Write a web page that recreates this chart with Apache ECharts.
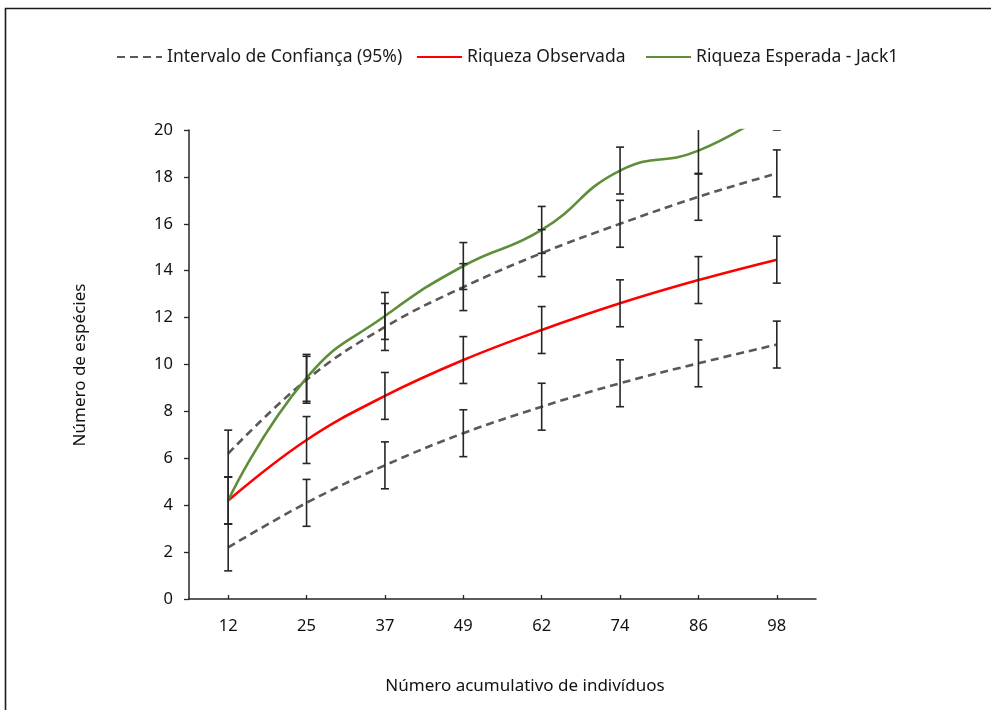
<!DOCTYPE html>
<html>
<head>
<meta charset="utf-8">
<script src="https://cdn.jsdelivr.net/npm/echarts@6/dist/echarts.min.js"></script>
<style>html,body{margin:0;padding:0;background:#fff;}#c{width:991px;height:710px;}</style>
</head>
<body>
<div id="c"></div>
<script>
// ---- data ----
const categories = ['12', '25', '37', '49', '62', '74', '86', '98'];
const upperCI  = [6.2, 9.35, 11.6, 13.3, 14.75, 16.0, 17.15, 18.15];
const lowerCI  = [2.2, 4.1, 5.7, 7.07, 8.2, 9.2, 10.05, 10.85];
const observed = [4.2, 6.78, 8.66, 10.19, 11.47, 12.61, 13.6, 14.47];
const jack1    = [4.2, 9.43, 12.07, 14.2, 15.74, 18.27, 19.12, 21.0];
const errorAmount = 1;
const yTicks = { min: 0, max: 20, interval: 2 };

const nameCI = 'Intervalo de Confiança (95%)';
const nameObs = 'Riqueza Observada';
const nameJack = 'Riqueza Esperada - Jack1';

const FONT = 'Noto Sans';
const chart = echarts.init(document.getElementById('c'));

function errData(vals) {
  return vals.map((v, i) => [i, v - errorAmount, v + errorAmount]);
}
function renderErr(params, api) {
  const x = api.value(0);
  const lo = api.coord([x, api.value(1)]);
  const hi = api.coord([x, api.value(2)]);
  const hw = 4;
  const st = { stroke: '#262626', lineWidth: 1.6 };
  return {
    type: 'group',
    children: [
      { type: 'line', shape: { x1: lo[0], y1: lo[1], x2: hi[0], y2: hi[1] }, style: st },
      { type: 'line', shape: { x1: lo[0] - hw, y1: lo[1], x2: lo[0] + hw, y2: lo[1] }, style: st },
      { type: 'line', shape: { x1: hi[0] - hw, y1: hi[1], x2: hi[0] + hw, y2: hi[1] }, style: st }
    ]
  };
}
function errSeries(vals) {
  return {
    type: 'custom', renderItem: renderErr, data: errData(vals),
    clip: true, z: 5, silent: true, encode: { x: 0, y: [1, 2] }
  };
}

const legendText = { fontFamily: FONT, fontSize: 17.5, color: '#1a1a1a' };
const dashStyle = { color: '#595959', width: 2.6, type: [8, 5] };
const legendCommon = { top: 48, padding: 0, itemWidth: 45, itemHeight: 12, textStyle: legendText, itemStyle: { opacity: 0 } };

chart.setOption({
  animation: false,
  backgroundColor: '#ffffff',
  textStyle: { fontFamily: FONT },
  grid: { left: 189, right: 175, top: 130, bottom: 111, containLabel: false },
  legend: [
    Object.assign({ data: [nameCI], left: 116 }, legendCommon),
    Object.assign({ data: [nameObs], left: 416 }, legendCommon),
    Object.assign({ data: [nameJack], left: 645 }, legendCommon)
  ],
  xAxis: {
    type: 'category', data: categories, boundaryGap: true,
    axisLine: { lineStyle: { color: '#262626', width: 1.5 } },
    axisTick: { show: true, inside: true, alignWithLabel: true, length: 4, lineStyle: { color: '#262626', width: 1.3 } },
    axisLabel: { fontFamily: FONT, fontSize: 16.5, color: '#111', margin: 19 },
    splitLine: { show: false }
  },
  yAxis: {
    type: 'value', min: yTicks.min, max: yTicks.max, interval: yTicks.interval,
    axisLine: { show: true, lineStyle: { color: '#262626', width: 1.5 } },
    axisTick: { show: true, length: 5, lineStyle: { color: '#262626', width: 1.3 } },
    axisLabel: { fontFamily: FONT, fontSize: 16.5, color: '#111', margin: 16 },
    splitLine: { show: false }
  },
  graphic: [
    { type: 'rect', shape: { x: 5.5, y: 8.5, width: 1000, height: 720 }, style: { fill: 'none', stroke: '#1a1a1a', lineWidth: 1.6 }, z: 100 },
    { type: 'text', x: 80, y: 365, rotation: Math.PI / 2, style: { text: 'Número de espécies', fontFamily: FONT, fontSize: 17, fill: '#111', align: 'center', verticalAlign: 'middle' } },
    { type: 'text', x: 525, y: 686, style: { text: 'Número acumulativo de indivíduos', fontFamily: FONT, fontSize: 17, fill: '#111', align: 'center', verticalAlign: 'middle' } }
  ],
  series: [
    { name: nameCI, type: 'line', data: upperCI, smooth: 0.4, symbol: 'none', lineStyle: dashStyle, itemStyle: { color: '#595959' }, z: 2 },
    { name: nameCI, type: 'line', data: lowerCI, smooth: 0.4, symbol: 'none', lineStyle: dashStyle, itemStyle: { color: '#595959' }, z: 2 },
    { name: nameObs, type: 'line', data: observed, smooth: 0.4, symbol: 'none', lineStyle: { color: '#ff0000', width: 2.6 }, itemStyle: { color: '#ff0000' }, z: 3 },
    { name: nameJack, type: 'line', data: jack1, smooth: 0.5, symbol: 'none', lineStyle: { color: '#5e8e3a', width: 2.6 }, itemStyle: { color: '#5e8e3a' }, z: 3 },
    errSeries(upperCI), errSeries(lowerCI), errSeries(observed), errSeries(jack1)
  ]
});
</script>
</body>
</html>
